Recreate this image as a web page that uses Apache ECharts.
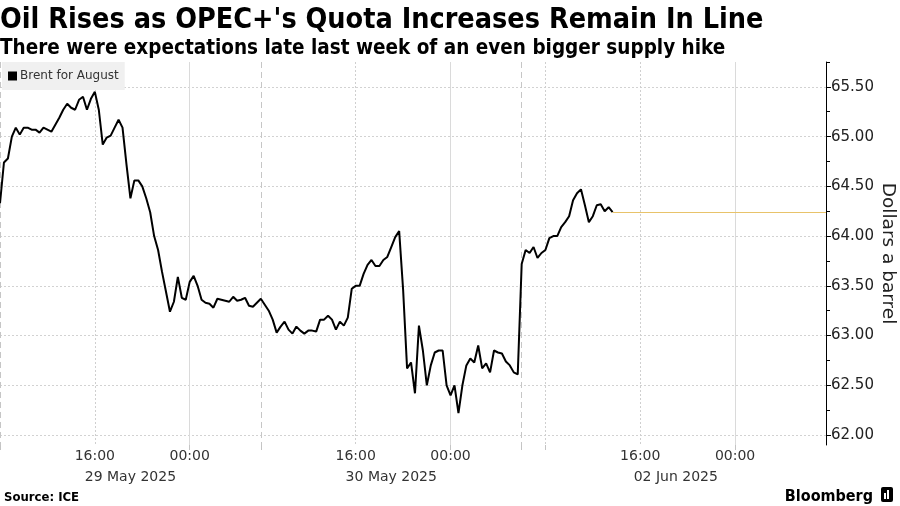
<!DOCTYPE html>
<html>
<head>
<meta charset="utf-8">
<script src="https://cdn.jsdelivr.net/npm/echarts@6/dist/echarts.min.js"></script>
<style>
  html, body { margin: 0; padding: 0; background: #fff; }
  #chart { width: 900px; height: 506px; }
</style>
</head>
<body>
<div id="chart"></div>
<script>
// ---- data ----
// Trading sessions (local time of chart), sampled every 20 minutes
const sessions = [
  { open: '2025-05-29 08:00', bars: 66 },
  { open: '2025-05-30 08:00', bars: 66 },
  { open: '2025-06-02 06:00', bars: 78 }
];
const stepMinutes = 20;
const seriesName = 'Brent for August';
// Brent for August, $/bbl, one value per 20-minute bar
const brent = [
  64.33, 64.74, 64.78, 65.00, 65.09, 65.02, 65.09, 65.09, 65.07, 65.07,
  65.04, 65.09, 65.07, 65.05, 65.12, 65.19, 65.27, 65.33, 65.29, 65.27,
  65.37, 65.40, 65.27, 65.38, 65.45, 65.27, 64.92, 64.99, 65.01, 65.09,
  65.17, 65.09, 64.72, 64.38, 64.56, 64.56, 64.50, 64.38, 64.24, 64.00,
  63.86, 63.64, 63.44, 63.24, 63.34, 63.59, 63.38, 63.36, 63.54, 63.60,
  63.50, 63.36, 63.33, 63.32, 63.28, 63.37, 63.36, 63.35, 63.34, 63.39,
  63.35, 63.36, 63.38, 63.30, 63.29, 63.33, 63.37, 63.31, 63.25, 63.16,
  63.03, 63.09, 63.14, 63.06, 63.02, 63.09, 63.05, 63.02, 63.05, 63.05,
  63.04, 63.16, 63.16, 63.20, 63.16, 63.06, 63.14, 63.10, 63.18, 63.47,
  63.50, 63.50, 63.62, 63.71, 63.76, 63.70, 63.70, 63.76, 63.79, 63.89,
  63.99, 64.05, 63.46, 62.67, 62.73, 62.42, 63.10, 62.85, 62.50, 62.70,
  62.83, 62.85, 62.85, 62.50, 62.40, 62.50, 62.22, 62.50, 62.70, 62.77,
  62.73, 62.90, 62.67, 62.72, 62.63, 62.85, 62.83, 62.82, 62.74, 62.70,
  62.63, 62.61, 63.72, 63.86, 63.83, 63.89, 63.78, 63.83, 63.86, 63.98,
  64.00, 64.00, 64.09, 64.14, 64.20, 64.36, 64.43, 64.47, 64.31, 64.14,
  64.20, 64.31, 64.32, 64.25, 64.29, 64.24
];
const priceTicks = [62.0, 62.5, 63.0, 63.5, 64.0, 64.5, 65.0, 65.5];
const priceMinorTicks = [61.75, 62.25, 62.75, 63.25, 63.75, 64.25, 64.75, 65.25, 65.75];
const timeLabels = ['16:00', '00:00'];
const monthNames = ['Jan','Feb','Mar','Apr','May','Jun','Jul','Aug','Sep','Oct','Nov','Dec'];

// ---- build categories ----
function parse(s) {
  const [d, t] = s.split(' ');
  const [y, m, dd] = d.split('-').map(Number);
  const [h, mi] = t.split(':').map(Number);
  return Date.UTC(y, m - 1, dd, h, mi);
}
function pad(n) { return (n < 10 ? '0' : '') + n; }
function fmt(ms) {
  const d = new Date(ms);
  return d.getUTCFullYear() + '-' + pad(d.getUTCMonth() + 1) + '-' + pad(d.getUTCDate()) +
    ' ' + pad(d.getUTCHours()) + ':' + pad(d.getUTCMinutes());
}
const categories = [];
const sessionStarts = new Set();
const sessionMids = {};
sessions.forEach(s => {
  const t0 = parse(s.open);
  sessionStarts.add(categories.length);
  sessionMids[categories.length + Math.round(s.bars / 2)] = s.open.split(' ')[0];
  for (let i = 0; i < s.bars; i++) categories.push(fmt(t0 + i * stepMinutes * 60000));
});
const hhmm = v => v.split(' ')[1];
function dayLabel(d) {
  const [y, m, dd] = d.split('-');
  return dd + ' ' + monthNames[Number(m) - 1] + ' ' + y;
}

const FONT = 'DejaVu Sans';
const COND = 'DejaVu Sans Condensed';
const lastIdx = brent.length - 1;
const lastVal = brent[lastIdx];

const baseX = {
  type: 'category', data: categories, boundaryGap: false, gridIndex: 0, position: 'bottom',
  axisLine: { show: false }, axisTick: { show: false }, axisLabel: { show: false },
  splitLine: { show: false }
};

const chart = echarts.init(document.getElementById('chart'), null, { renderer: 'canvas' });
chart.setOption({
  animation: false,
  backgroundColor: '#fff',
  title: [
    { text: "Oil Rises as OPEC+'s Quota Increases Remain In Line", left: 0, top: 6, padding: 0,
      textStyle: { fontFamily: COND, fontSize: 28.5, fontWeight: 'bold', color: '#000' } },
    { text: 'There were expectations late last week of an even bigger supply hike', left: 0, top: 38, padding: 0,
      textStyle: { fontFamily: COND, fontSize: 20.5, fontWeight: 'bold', color: '#000' } },
    { text: 'Source: ICE', left: 4, top: 491, padding: 0,
      textStyle: { fontFamily: COND, fontSize: 13, fontWeight: 'bold', color: '#000' } },
    { text: 'Bloomberg', right: 27, top: 489, padding: 0,
      textStyle: { fontFamily: COND, fontSize: 16, fontWeight: 'bold', color: '#000' } }
  ],
  graphic: [
    { type: 'rect', right: 7, top: 487, shape: { width: 12, height: 15, r: 2 }, style: { fill: '#000' } },
    { type: 'rect', right: 14, top: 493, shape: { width: 2, height: 6 }, style: { fill: '#fff' } },
    { type: 'rect', right: 11, top: 490, shape: { width: 2, height: 9 }, style: { fill: '#fff' } }
  ],
  legend: {
    data: [seriesName], left: 2, top: 62, icon: 'rect', itemWidth: 9, itemHeight: 9, itemGap: 4,
    backgroundColor: '#f0f0f0', padding: [8, 6, 8, 6],
    textStyle: { fontFamily: FONT, fontSize: 12, color: '#333', padding: [0, 0, 0, -2] }
  },
  grid: { left: 0, right: 74, top: 62, bottom: 61, containLabel: false, outerBoundsMode: 'none' },
  xAxis: [
    Object.assign({}, baseX, {
      axisLabel: { show: true, interval: (i, v) => timeLabels.includes(hhmm(v)), formatter: v => hhmm(v),
        fontFamily: FONT, fontSize: 14, color: '#333', margin: 4 },
      splitLine: { show: true, interval: (i, v) => (hhmm(v) === '16:00' || hhmm(v) === '08:00') && !sessionStarts.has(i),
        lineStyle: { type: [2, 2], color: '#cfcfcf', width: 1 } }
    }),
    Object.assign({}, baseX, {
      axisTick: { show: true, length: 5, interval: (i, v) => sessionStarts.has(i) || hhmm(v) === '00:00' || hhmm(v) === '08:00',
        lineStyle: { color: '#c4c4c4' } },
      splitLine: { show: true, interval: (i, v) => hhmm(v) === '00:00',
        lineStyle: { type: 'solid', color: '#dadada', width: 1 } }
    }),
    Object.assign({}, baseX, {
      splitLine: { show: true, interval: (i) => sessionStarts.has(i),
        lineStyle: { type: [6, 4], color: '#c6c6c6', width: 1 } }
    }),
    Object.assign({}, baseX, {
      axisLabel: { show: true, interval: (i) => sessionMids[i] !== undefined,
        formatter: (v) => dayLabel(v.split(' ')[0]),
        fontFamily: FONT, fontSize: 14, color: '#333', margin: 25 }
    })
  ],
  yAxis: [
    { type: 'value', position: 'right', min: 61.9, max: 65.75, scale: true,
      axisLine: { show: true, lineStyle: { color: '#000', width: 1 } },
      axisTick: { show: true, customValues: priceTicks, length: 5, lineStyle: { color: '#000' } },
      axisLabel: { customValues: priceTicks, formatter: v => v.toFixed(2), fontFamily: FONT, fontSize: 15, color: '#222', margin: 5 },
      splitLine: { show: true, lineStyle: { type: [2, 2], color: '#d2d2d2' } },
      name: 'Dollars a barrel', nameLocation: 'middle', nameRotate: -90, nameGap: 52, nameMoveOverlap: false,
      nameTextStyle: { fontFamily: FONT, fontSize: 18.5, color: '#222' } },
    { type: 'value', position: 'right', min: 61.9, max: 65.75, scale: true,
      axisLine: { show: false },
      axisTick: { show: true, customValues: priceMinorTicks, length: 4, lineStyle: { color: '#000' } },
      axisLabel: { show: false }, splitLine: { show: false } }
  ],
  series: [{
    name: seriesName, type: 'line', data: brent, xAxisIndex: 0, yAxisIndex: 0,
    showSymbol: false, symbol: 'none', color: '#000',
    lineStyle: { color: '#000', width: 2 },
    markLine: {
      silent: true, symbol: 'none', label: { show: false },
      lineStyle: { color: '#e8c36a', width: 1.2, type: 'solid' },
      data: [[{ coord: [lastIdx, lastVal] }, { coord: [categories.length - 1, lastVal] }]]
    }
  }]
});
</script>
</body>
</html>
